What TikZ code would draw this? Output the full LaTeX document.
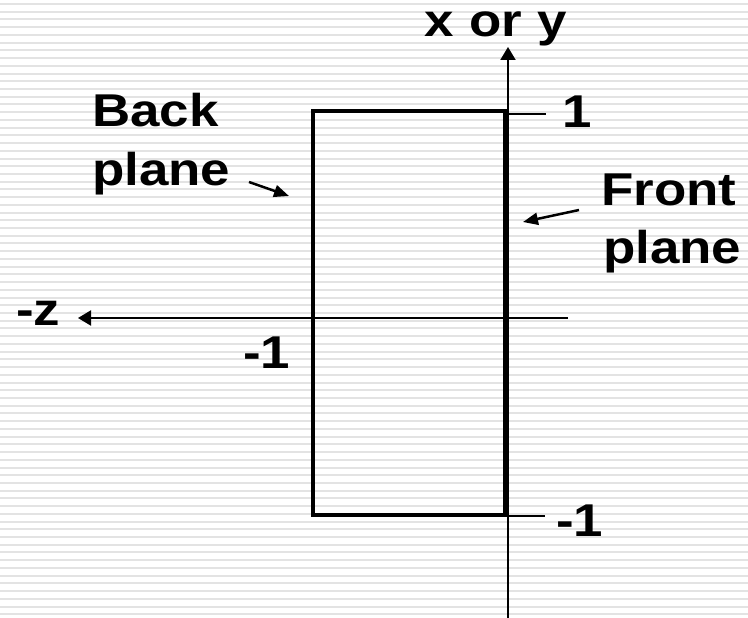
\documentclass[tikz,border=0pt]{standalone}
\usepackage{fontspec}
\setmainfont{Liberation Sans}[BoldFont={* Bold}]
\newfontfamily\labfont{Liberation Sans Bold}[FakeStretch=1.15]
\usetikzlibrary{arrows.meta,calc}
\begin{document}
\begin{tikzpicture}[x=1pt,y=-1pt,
  stripe/.style={fill=black!11},
  lab/.style={inner sep=0pt,anchor=base west,font=\labfont\fontsize{46}{50}\selectfont},
  thinline/.style={line width=2pt},
  thickline/.style={line width=4.5pt},
  axisarrow/.style={line width=2pt,-{Triangle[length=13pt,width=15pt]}},
  ptr/.style={line width=2.5pt,-{Triangle[length=15pt,width=12pt]}}]
\useasboundingbox (0,0) rectangle (748,618);
\fill[white] (0,0) rectangle (748,618);
\foreach \i in {0,...,79} \fill[stripe] (0,{3+7.725*\i}) rectangle (748,{5+7.725*\i});
% axes
\coordinate (ybot) at (508,618);
\coordinate (ytop) at (508,47);
\coordinate (zright) at (568,318);
\coordinate (zleft) at (78,318);
\draw[axisarrow] (ybot) -- (ytop);
\draw[axisarrow] (zright) -- (zleft);
% rectangle
\coordinate (tl) at (313,111);
\coordinate (tr) at (506,111);
\coordinate (bl) at (313,515);
\coordinate (br) at (506,515);
\draw[thickline] (tr) -- (tl) -- (bl) -- (br);
\draw[line width=6.5pt] ($(tr)+(0,-2.25)$) -- ($(br)+(0,2.25)$);
% ticks
\coordinate (t1a) at (508,114);
\coordinate (t1b) at (546,114);
\coordinate (t2a) at (508,516);
\coordinate (t2b) at (545,516);
\draw[thinline] (t1a) -- (t1b);
\draw[thinline] (t2a) -- (t2b);
% labels
\node[lab] (xy) at (424,37) {x\kern1pt\ or\kern1pt\ y};
\node[lab] (one) at (562,128) {1};
\node[lab] (mone) at (556,536) {-1};
\node[lab] (monel) at (243,368) {-1};
\node[lab] (mz) at (16,325) {-z};
\node[lab] (back) at (92,127) {Back};
\node[lab] (backp) at (92,185) {plane};
\node[lab] (front) at (601,205) {Front};
\node[lab] (frontp) at (603,263) {plane};
% pointers
\coordinate (bs) at (249,182);
\coordinate (be) at (289,196);
\coordinate (fs) at (579,210);
\coordinate (fe) at (523,222);
\draw[ptr] (bs) -- (be);
\draw[ptr] (fs) -- (fe);
\end{tikzpicture}
\end{document}
